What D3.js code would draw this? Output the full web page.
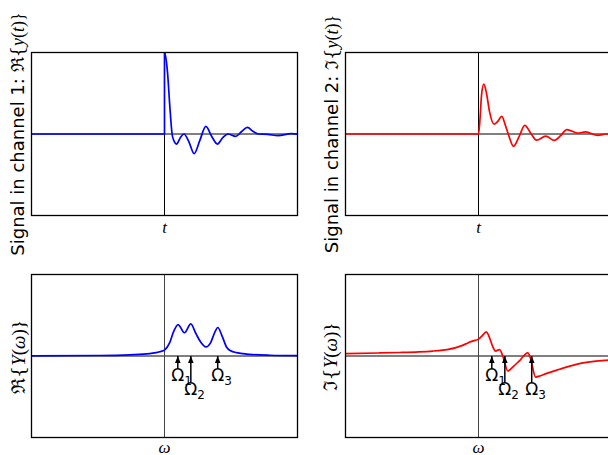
<!DOCTYPE html>
<html>
<head>
<meta charset="utf-8">
<script src="https://cdn.jsdelivr.net/npm/d3@7"></script>
<style>
  body { margin: 0; background: #fff; }
  svg { display: block; }
</style>
</head>
<body>
<div id="container"></div>
<script>
// signal, units: t and value both run -1..1 in each panel
var preTrigger = [[-1, 0], [0, 0], [0, 1]];

var channel1Time = [
  [0, 1], [0.006, 0.97], [0.023, 0.75], [0.040, 0.34], [0.057, 0], [0.070, -0.08],
  [0.090, -0.123], [0.119, -0.045], [0.147, 0], [0.183, -0.094], [0.223, -0.242],
  [0.265, -0.082], [0.311, 0.093], [0.356, -0.033], [0.398, -0.123], [0.438, -0.045],
  [0.478, 0], [0.536, -0.029], [0.578, 0.028], [0.624, 0.081], [0.664, 0.034],
  [0.704, 0], [0.777, -0.005], [0.854, -0.021], [0.955, 0.004], [1.0, -0.002]
];

var channel2Time = [
  [-1, 0], [0, 0], [0.011, 0.175], [0.023, 0.48], [0.040, 0.611], [0.060, 0.50],
  [0.083, 0.274], [0.117, 0.120], [0.143, 0.151], [0.175, 0.216], [0.203, 0.102],
  [0.228, -0.021], [0.263, -0.152], [0.305, -0.033], [0.348, 0.106], [0.391, 0.016],
  [0.436, -0.076], [0.506, -0.027], [0.571, -0.079], [0.617, -0.021], [0.665, 0.053],
  [0.744, 0.012], [0.805, 0.025], [0.897, -0.017], [0.962, 0], [1.0, 0]
];

var channel1Spectrum = [
  [-1, 0.002], [-0.486, 0.006], [-0.261, 0.015], [-0.111, 0.030], [-0.035, 0.052],
  [0.002, 0.076], [0.040, 0.168], [0.070, 0.304], [0.102, 0.386], [0.150, 0.285],
  [0.198, 0.394], [0.235, 0.279], [0.273, 0.168], [0.311, 0.111], [0.348, 0.168],
  [0.378, 0.291], [0.401, 0.350], [0.431, 0.254], [0.466, 0.111], [0.498, 0.064],
  [0.541, 0.042], [0.641, 0.021], [0.792, 0.009], [1.0, 0.004]
];

var channel2Spectrum = [
  [-1, 0.030], [-0.75, 0.037], [-0.594, 0.043], [-0.45, 0.051], [-0.344, 0.061],
  [-0.27, 0.072], [-0.218, 0.084], [-0.17, 0.103], [-0.12, 0.130], [-0.08, 0.160],
  [-0.04, 0.185], [0, 0.207], [0.023, 0.240], [0.060, 0.295], [0.079, 0.242],
  [0.108, 0.111], [0.128, 0.061], [0.158, 0.079], [0.188, -0.028], [0.220, -0.184],
  [0.263, -0.127], [0.308, -0.059], [0.371, 0.039], [0.391, -0.028], [0.429, -0.258],
  [0.466, -0.243], [0.509, -0.216], [0.609, -0.163], [0.735, -0.102], [0.960, -0.053],
  [1.0, -0.048]
];

// resonance positions and how deep their labels sit
var omegaPositions = [0.10, 0.198, 0.40];
var omegaNames = ["1", "2", "3"];
var labelDepthReal = [-0.31, -0.48, -0.31];
var labelDepthImag = [-0.31, -0.48, -0.48];

var W = 608, H = 455;
var panelW = 266, panelH = 163;

var svg = d3.select("#container").append("svg")
  .attr("width", W)
  .attr("height", H);

var defs = svg.append("defs");
defs.append("marker")
  .attr("id", "head")
  .attr("viewBox", "0 0 10 10")
  .attr("refX", 10).attr("refY", 5)
  .attr("markerUnits", "userSpaceOnUse")
  .attr("markerWidth", 7).attr("markerHeight", 7)
  .attr("orient", "auto")
  .append("path")
  .attr("d", "M0,1 L10,5 L0,9 z")
  .attr("fill", "#000");

var x = d3.scaleLinear().domain([-1, 1]).range([0, panelW]);
var y = d3.scaleLinear().domain([-1, 1]).range([panelH, 0]);

var clipCount = 0;

function makePanel(left, top, zeroStyle){
  var g = svg.append("g").attr("transform", "translate(" + left + "," + top + ")");
  var id = "clip" + (clipCount++);
  g.append("clipPath").attr("id", id)
    .append("rect").attr("width", panelW).attr("height", panelH);
  var inner = g.append("g").attr("clip-path", "url(#" + id + ")");

  // zero lines
  inner.append("line")
    .attr("x1", x(-1)).attr("x2", x(1))
    .attr("y1", y(0)).attr("y2", y(0))
    .attr("stroke", zeroStyle.hColor)
    .attr("stroke-width", zeroStyle.hWidth);
  inner.append("line")
    .attr("x1", x(0)).attr("x2", x(0))
    .attr("y1", 0).attr("y2", panelH)
    .attr("stroke", zeroStyle.vColor)
    .attr("stroke-width", 1);

  return {g: g, inner: inner};
}

function drawCurve(panel, data, color, curve){
  var line = d3.line()
    .x(function(d){ return x(d[0]); })
    .y(function(d){ return y(d[1]); })
    .curve(curve);
  panel.inner.append("path")
    .datum(data)
    .attr("d", line)
    .attr("fill", "none")
    .attr("stroke", color)
    .attr("stroke-width", 1.7)
    .attr("stroke-linejoin", "round");
}

function frame(panel){
  panel.g.append("rect")
    .attr("width", panelW).attr("height", panelH)
    .attr("fill", "none")
    .attr("stroke", "#000")
    .attr("stroke-width", 1.3);
}

function tickLabel(panel, txt, dy){
  panel.g.append("text")
    .attr("x", x(0))
    .attr("y", panelH + dy)
    .attr("text-anchor", "middle")
    .style("font-family", "'Liberation Serif', 'DejaVu Serif', serif")
    .style("font-style", "italic")
    .style("font-size", "17px")
    .text(txt);
}

function yLabel(bx, cy, prefix, symbol, arg, size){
  var t = svg.append("text")
    .attr("transform", "translate(" + bx + "," + cy + ") rotate(-90)")
    .attr("text-anchor", "middle")
    .style("font-size", size + "px")
    .style("font-family", "'DejaVu Sans', sans-serif");
  if (prefix) t.append("tspan").text(prefix);
  var serif = "'Liberation Serif', 'DejaVu Serif', serif";
  t.append("tspan").style("font-family", "'DejaVu Serif', serif").text(symbol + "{");
  t.append("tspan").style("font-family", serif).style("font-style", "italic").text(arg[0]);
  t.append("tspan").style("font-family", serif).text("(");
  t.append("tspan").style("font-family", serif).style("font-style", "italic").text(arg[1]);
  t.append("tspan").style("font-family", serif).text(")}");
}

function annotate(panel, depths){
  omegaPositions.forEach(function(w, i){
    var baseY = y(depths[i]);
    panel.g.append("line")
      .attr("x1", x(w)).attr("x2", x(w))
      .attr("y1", baseY - 13).attr("y2", y(0))
      .attr("stroke", "#000")
      .attr("stroke-width", 1.5)
      .attr("marker-end", "url(#head)");
    var t = panel.g.append("text")
      .attr("x", x(w) - 6.5)
      .attr("y", baseY)
      .style("font-family", "'DejaVu Sans', sans-serif")
      .style("font-size", "17px");
    t.append("tspan").text("\u03A9");
    t.append("tspan").attr("dy", 4).style("font-size", "12px").text(omegaNames[i]);
  });
}

var topZero = {hColor: "#000", hWidth: 1, vColor: "#000"};
var botZero = {hColor: "#808080", hWidth: 2, vColor: "#444"};

// top left: real part in time
var p1 = makePanel(31.5, 52.5, topZero);
drawCurve(p1, preTrigger, "#0000ff", d3.curveLinear);
drawCurve(p1, channel1Time, "#0000ff", d3.curveMonotoneX);
frame(p1);
tickLabel(p1, "t", 17);

// top right: imaginary part in time
var p2 = makePanel(345.5, 52.5, topZero);
drawCurve(p2, channel2Time, "#ff0000", d3.curveMonotoneX);
frame(p2);
tickLabel(p2, "t", 17);

// bottom left: real spectrum
var p3 = makePanel(31.5, 274.5, botZero);
drawCurve(p3, channel1Spectrum, "#0000ff", d3.curveMonotoneX);
frame(p3);
tickLabel(p3, "\u03C9", 15);
annotate(p3, labelDepthReal);

// bottom right: imaginary spectrum
var p4 = makePanel(345.5, 274.5, botZero);
drawCurve(p4, channel2Spectrum, "#ff0000", d3.curveMonotoneX);
frame(p4);
tickLabel(p4, "\u03C9", 15);
annotate(p4, labelDepthImag);

yLabel(24, 134, "Signal in channel 1:  ", "\u211C", ["y", "t"], 18);
yLabel(338, 134, "Signal in channel 2:  ", "\u2111", ["y", "t"], 18);
yLabel(25, 357, "", "\u211C", ["Y", "\u03C9"], 19);
yLabel(337, 357, "", "\u2111", ["Y", "\u03C9"], 19);
</script>
</body>
</html>
